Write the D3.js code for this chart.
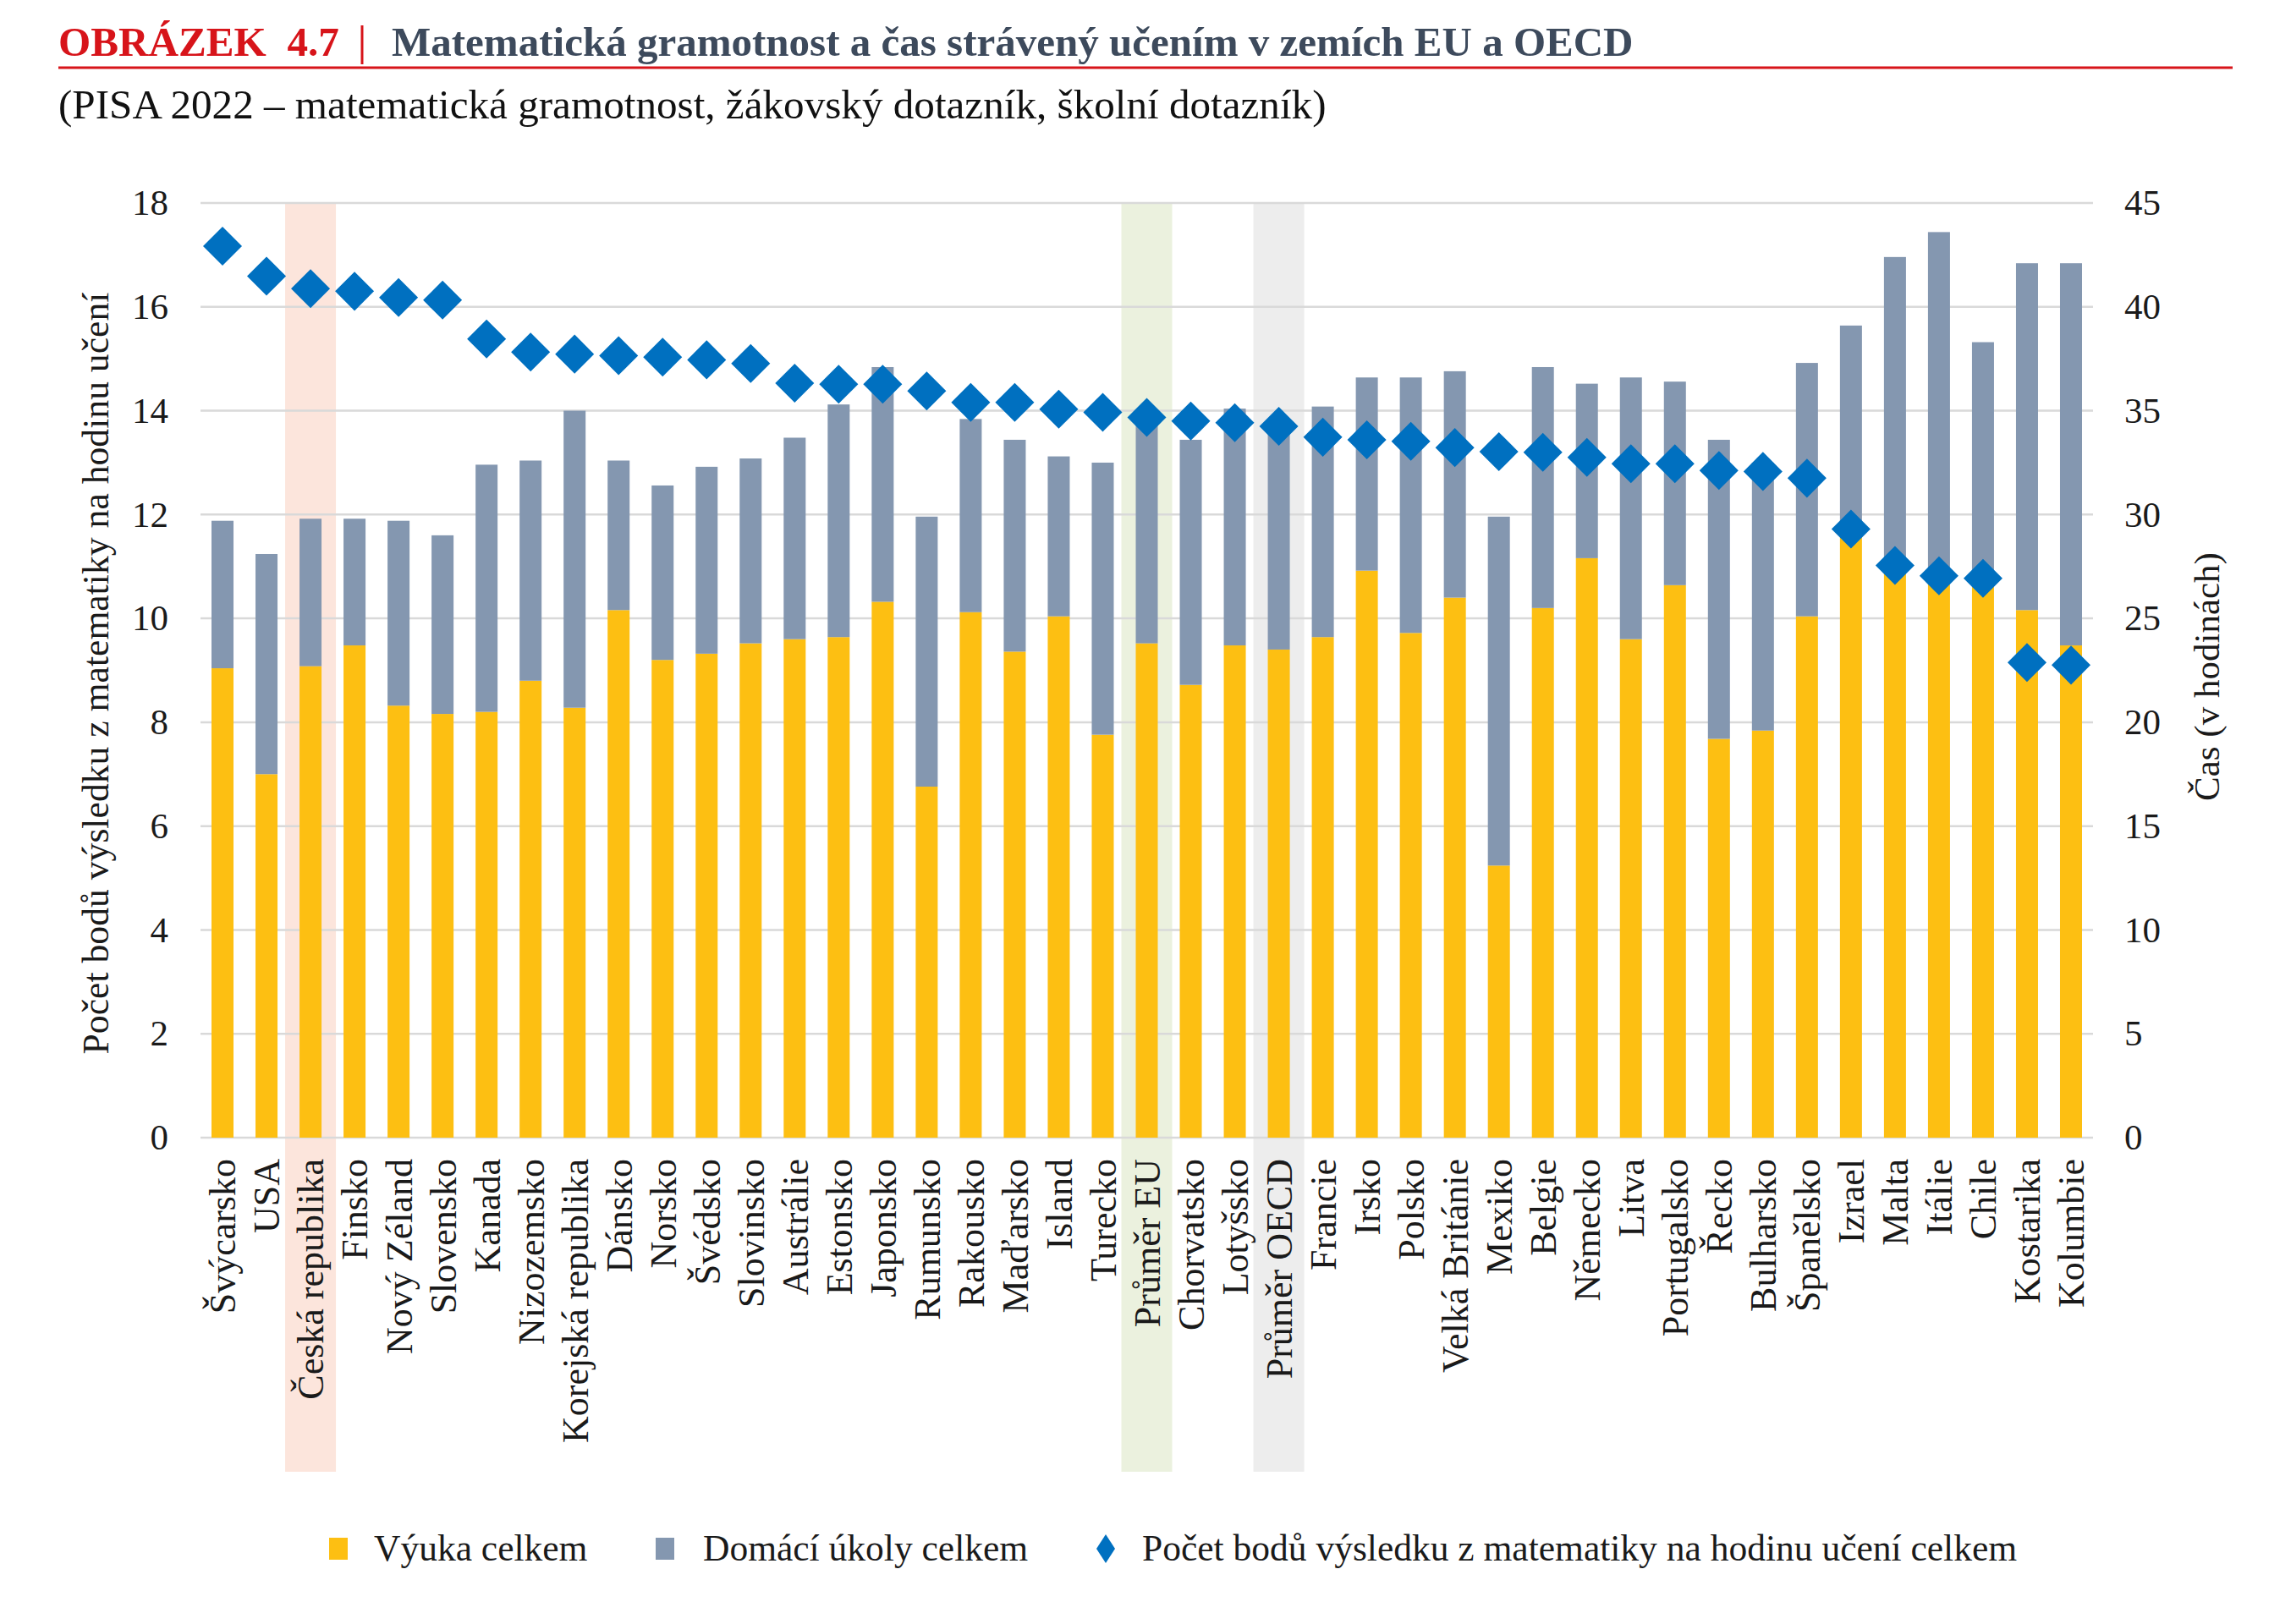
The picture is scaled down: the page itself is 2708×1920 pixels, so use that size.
<!DOCTYPE html>
<html>
<head>
<meta charset="utf-8">
<script src="https://cdn.jsdelivr.net/npm/d3@7"></script>
<style>
  body { margin: 0; background: #fff; }
  text { font-family: "Liberation Serif", "Times New Roman", serif; }
</style>
</head>
<body>
<div id="container"></div>
<script>
// data (hours on the right axis, points per hour on the left)
let countries = ["Švýcarsko", "USA", "Česká republika", "Finsko", "Nový Zéland", "Slovensko", "Kanada",
  "Nizozemsko", "Korejská republika", "Dánsko", "Norsko", "Švédsko", "Slovinsko", "Austrálie", "Estonsko",
  "Japonsko", "Rumunsko", "Rakousko", "Maďarsko", "Island", "Turecko", "Průměr EU", "Chorvatsko", "Lotyšsko",
  "Průměr OECD", "Francie", "Irsko", "Polsko", "Velká Británie", "Mexiko", "Belgie", "Německo", "Litva",
  "Portugalsko", "Řecko", "Bulharsko", "Španělsko", "Izrael", "Malta", "Itálie", "Chile", "Kostarika", "Kolumbie"];

let vyuka = [22.6, 17.5, 22.7, 23.7, 20.8, 20.4, 20.5, 22.0, 20.7, 25.4, 23.0, 23.3, 23.8, 24.0, 24.1,
  25.8, 16.9, 25.3, 23.4, 25.1, 19.4, 23.8, 21.8, 23.7, 23.5, 24.1, 27.3, 24.3, 26.0, 13.1, 25.5, 27.9,
  24.0, 26.6, 19.2, 19.6, 25.1, 29.0, 27.5, 26.8, 26.8, 25.4, 23.7];

let domaciUkoly = [7.1, 10.6, 7.1, 6.1, 8.9, 8.6, 11.9, 10.6, 14.3, 7.2, 8.4, 9.0, 8.9, 9.7, 11.2,
  11.3, 13.0, 9.3, 10.2, 7.7, 13.1, 10.6, 11.8, 11.4, 10.6, 11.1, 9.3, 12.3, 10.9, 16.8, 11.6, 8.4,
  12.6, 9.8, 14.4, 12.9, 12.2, 10.1, 14.9, 16.8, 11.5, 16.7, 18.4];

let bodyNaHodinu = [17.17, 16.59, 16.35, 16.30, 16.18, 16.13, 15.38, 15.13, 15.09, 15.06, 15.03, 14.98,
  14.91, 14.53, 14.51, 14.51, 14.38, 14.16, 14.16, 14.03, 13.97, 13.87, 13.80, 13.77, 13.70, 13.49, 13.44,
  13.41, 13.29, 13.21, 13.20, 13.10, 12.98, 12.98, 12.85, 12.83, 12.70, 11.72, 11.02, 10.82, 10.77, 9.15, 9.10];

let leftTicks = [0, 2, 4, 6, 8, 10, 12, 14, 16, 18];
let rightTicks = [0, 5, 10, 15, 20, 25, 30, 35, 40, 45];

let highlights = [
  {country: "Česká republika", color: "#fce5dc"},
  {country: "Průměr EU", color: "#ebf1de"},
  {country: "Průměr OECD", color: "#ededed"}
];

let seriesNames = ["Výuka celkem", "Domácí úkoly celkem",
  "Počet bodů výsledku z matematiky na hodinu učení celkem"];
let colors = ["#fdbf12", "#8497b0", "#0070c0"];

let w = 2708;
let h = 1920;
let plotLeft = 237, plotRight = 2474, plotTop = 240, plotBottom = 1345;

let viz = d3.select("#container")
  .append("svg")
  .attr("width", w)
  .attr("height", h)
  .style("background-color", "#fff");

// scale a text so it spans a given width
function fitText(sel, target) {
  let len = sel.node().getComputedTextLength();
  let fs = parseFloat(sel.attr("font-size"));
  sel.attr("font-size", fs * target / len);
}

let xScale = d3.scaleBand()
  .domain(countries)
  .range([plotLeft, plotRight])
  .paddingInner(0.5)
  .paddingOuter(0.25);

let yLeft = d3.scaleLinear().domain([0, 18]).range([plotBottom, plotTop]);
let yRight = d3.scaleLinear().domain([0, 45]).range([plotBottom, plotTop]);

// title block
let t1 = viz.append("text")
  .attr("x", 69).attr("y", 66)
  .attr("font-size", 50).attr("font-weight", "bold")
  .attr("fill", "#d7141a")
  .style("white-space", "pre")
  .text("OBRÁZEK  4.7");
fitText(t1, 332);

viz.append("line")
  .attr("x1", 428).attr("x2", 428)
  .attr("y1", 30).attr("y2", 76)
  .attr("stroke", "#d7141a").attr("stroke-width", 3);

let t2 = viz.append("text")
  .attr("x", 463).attr("y", 66)
  .attr("font-size", 50).attr("font-weight", "bold")
  .attr("fill", "#3d4a5c")
  .text("Matematická gramotnost a čas strávený učením v zemích EU a OECD");
fitText(t2, 1468);

viz.append("line")
  .attr("x1", 69).attr("x2", 2639)
  .attr("y1", 80).attr("y2", 80)
  .attr("stroke", "#d7141a").attr("stroke-width", 3);

let sub = viz.append("text")
  .attr("x", 69).attr("y", 140)
  .attr("font-size", 46)
  .attr("fill", "#111")
  .text("(PISA 2022 – matematická gramotnost, žákovský dotazník, školní dotazník)");
fitText(sub, 1499);

// highlighted columns
viz.selectAll(".hl")
  .data(highlights)
  .enter()
  .append("rect")
  .attr("class", "hl")
  .attr("x", d => xScale(d.country) + xScale.bandwidth() / 2 - 30)
  .attr("y", plotTop)
  .attr("width", 60)
  .attr("height", 1740 - plotTop)
  .attr("fill", d => d.color);

// gridlines
viz.selectAll(".grid")
  .data(rightTicks)
  .enter()
  .append("line")
  .attr("class", "grid")
  .attr("x1", plotLeft).attr("x2", plotRight)
  .attr("y1", d => yRight(d)).attr("y2", d => yRight(d))
  .attr("stroke", "#d9d9d9")
  .attr("stroke-width", 2.5);

// stacked bars
let table = countries.map((c, i) => ({country: c, vyuka: vyuka[i], ukoly: domaciUkoly[i]}));
let stacked = d3.stack().keys(["vyuka", "ukoly"])(table);

viz.selectAll(".layer")
  .data(stacked)
  .enter()
  .append("g")
  .attr("class", "layer")
  .attr("fill", (d, i) => colors[i])
  .selectAll("rect")
  .data(d => d)
  .enter()
  .append("rect")
  .attr("x", d => xScale(d.data.country))
  .attr("y", d => yRight(d[1]))
  .attr("width", xScale.bandwidth())
  .attr("height", d => yRight(d[0]) - yRight(d[1]));

// diamonds
let diamond = d3.symbol().type(d3.symbolSquare).size(1060);
viz.selectAll(".pt")
  .data(countries)
  .enter()
  .append("path")
  .attr("class", "pt")
  .attr("d", diamond)
  .attr("transform", (d, i) => `translate(${xScale(d) + xScale.bandwidth() / 2}, ${yLeft(bodyNaHodinu[i])}) rotate(45)`)
  .attr("fill", colors[2]);

// axes
let leftAxis = viz.append("g")
  .attr("transform", `translate(${plotLeft}, 0)`)
  .call(d3.axisLeft(yLeft).tickValues(leftTicks).tickSize(0).tickPadding(38));
let rightAxis = viz.append("g")
  .attr("transform", `translate(${plotRight}, 0)`)
  .call(d3.axisRight(yRight).tickValues(rightTicks).tickSize(0).tickPadding(37));
let bottomAxis = viz.append("g")
  .attr("transform", `translate(0, ${plotBottom})`)
  .call(d3.axisBottom(xScale).tickSize(0));

[leftAxis, rightAxis, bottomAxis].forEach(a => {
  a.select(".domain").remove();
  a.selectAll("text")
    .attr("font-family", "Liberation Serif, serif")
    .attr("font-size", 43)
    .attr("fill", "#1a1a1a");
});

bottomAxis.selectAll("text")
  .attr("font-size", 44)
  .attr("y", 0)
  .attr("x", -25)
  .attr("dy", "0.35em")
  .attr("transform", "rotate(-90)")
  .style("text-anchor", "end");

// axis titles
let lt = viz.append("text")
  .attr("transform", "translate(113, 796) rotate(-90)")
  .attr("text-anchor", "middle")
  .attr("dominant-baseline", "central")
  .attr("font-size", 42)
  .attr("fill", "#1a1a1a")
  .text("Počet bodů výsledku z matematiky na hodinu učení");
fitText(lt, 901);

let rt = viz.append("text")
  .attr("transform", "translate(2608, 800) rotate(-90)")
  .attr("text-anchor", "middle")
  .attr("dominant-baseline", "central")
  .attr("font-size", 42)
  .attr("fill", "#1a1a1a")
  .text("Čas (v hodinách)");
fitText(rt, 294);

// legend
let legendX = [389, 775, 1296];
let legend = viz.selectAll(".legend")
  .data(seriesNames)
  .enter()
  .append("g")
  .attr("class", "legend")
  .attr("transform", (d, i) => `translate(${legendX[i]}, 1831)`);

legend.filter((d, i) => i < 2)
  .append("rect")
  .attr("x", 0).attr("y", -13)
  .attr("width", 22).attr("height", 26)
  .attr("fill", (d, i) => colors[i]);

legend.filter((d, i) => i == 2)
  .append("path")
  .attr("d", "M11,-17 L22,0 L11,17 L0,0 Z")
  .attr("fill", colors[2]);

legend.append("text")
  .attr("x", (d, i) => [53, 56, 54][i])
  .attr("y", 14)
  .attr("font-size", 43.5)
  .attr("fill", "#1a1a1a")
  .text(d => d);
</script>
</body>
</html>
